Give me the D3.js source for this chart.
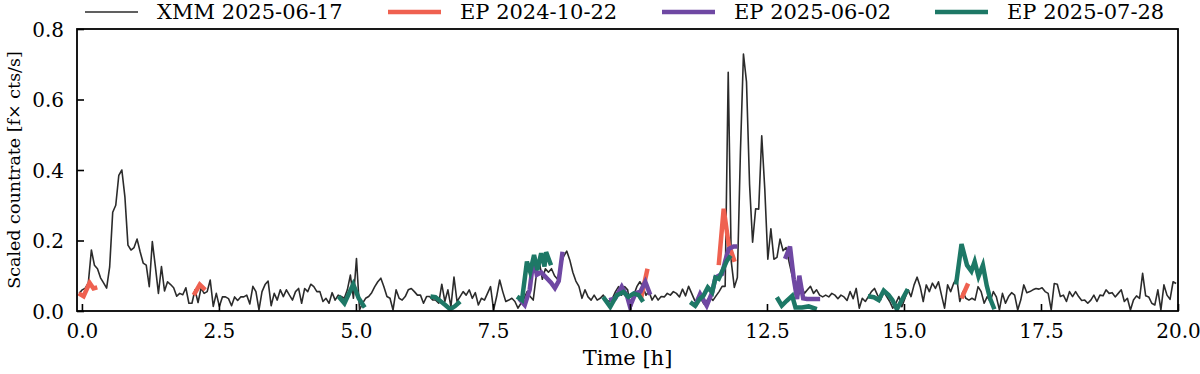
<!DOCTYPE html>
<html>
<head>
<meta charset="utf-8">
<script src="https://cdn.jsdelivr.net/npm/d3@7"></script>
<style>
  body { margin: 0; background: #fff; }
  text { font-family: "DejaVu Serif", "Liberation Serif", serif; }
</style>
</head>
<body>
<div id="chart"></div>
<script>
// Light curve comparison: XMM vs three EP observations

// XMM binned rate (200 s bins)
var xmmStart = -0.05;
var xmmBin = 0.0556;
var xmmRate = [
  0.05, 0.06, 0.065, 0.08, 0.173, 0.13, 0.12, 0.094, 0.08, 0.065,
  0.125, 0.28, 0.30, 0.385, 0.40, 0.324, 0.187, 0.173, 0.18, 0.204,
  0.168, 0.136, 0.13, 0.069, 0.197, 0.126, 0.05, 0.126, 0.057, 0.083,
  0.075, 0.066, 0.042, 0.05, 0.046, 0.066, 0.022, 0.022, 0.06, 0.024,
  0.065, 0.05, 0.055, 0.088, 0.013, 0.05, 0.013, 0.04, 0.04, 0.035,
  0.015, 0.04, 0.03, 0.04, 0.04, 0.045, 0.02, 0.07, 0.055, 0.003,
  0.055, 0.075, 0.085, 0.015, 0.05, 0.031, 0.06, 0.041, 0.06, 0.045,
  0.031, 0.055, 0.064, 0.022, 0.064, 0.055, 0.076, 0.069, 0.055, 0.055,
  0.027, 0.036, 0.022, 0.052, 0.031, 0.045, 0.041, 0.036, 0.06, 0.102,
  0.036, 0.149, 0.003, 0.022, 0.036, 0.041, 0.052, 0.069, 0.083, 0.093,
  0.069, 0.041, 0.036, 0.003, 0.06, 0.036, 0.031, 0.041, 0.06, 0.064,
  0.055, 0.045, 0.045, 0.022, 0.041, 0.041, 0.031, 0.031, 0.022, 0.076,
  0.027, 0.06, 0.012, 0.096, 0.027, 0.041, 0.055, 0.045, 0.06, 0.036,
  0.052, 0.017, 0.036, 0.031, 0.05, 0.069, 0.003, 0.041, 0.088, 0.055,
  0.027, 0.031, 0.036, 0.027, 0.008, 0.022, 0.036, 0.055, 0.041, 0.031,
  0.10, 0.14, 0.09, 0.12, 0.11, 0.12, 0.10, 0.09, 0.13, 0.155,
  0.17, 0.145, 0.11, 0.085, 0.07, 0.036, 0.06, 0.04, 0.031, 0.045,
  0.031, 0.036, 0.045, 0.031, 0.027, 0.036, 0.055, 0.069, 0.045, 0.069,
  0.06, 0.003, 0.045, 0.069, 0.083, 0.069, 0.045, 0.055, 0.031, 0.045,
  0.031, 0.041, 0.04, 0.05, 0.045, 0.055, 0.05, 0.04, 0.062, 0.043,
  0.07, 0.05, 0.03, 0.03, 0.035, 0.02, 0.03, 0.04, 0.03, 0.043,
  0.055, 0.07, 0.07, 0.677, 0.14, 0.067, 0.095, 0.45, 0.729, 0.65,
  0.36, 0.195, 0.29, 0.289, 0.497, 0.346, 0.147, 0.233, 0.147, 0.152,
  0.204, 0.171, 0.18, 0.138, 0.10, 0.071, 0.043, 0.07, 0.05, 0.06,
  0.07, 0.05, 0.06, 0.045, 0.04, 0.045, 0.04, 0.05, 0.045, 0.035,
  0.045, 0.04, 0.03, 0.055, 0.035, 0.064, 0.008, 0.036, 0.027, 0.041,
  0.055, 0.064, 0.045, 0.031, 0.055, 0.041, 0.027, 0.008, 0.022, 0.041,
  0.012, 0.036, 0.06, 0.041, 0.074, 0.096, 0.069, 0.027, 0.074, 0.055,
  0.079, 0.064, 0.083, 0.045, 0.008, 0.074, 0.055, 0.079, 0.093, 0.027,
  0.055, 0.036, 0.031, 0.036, 0.031, 0.069, 0.055, 0.022, 0.041, 0.027,
  0.055, 0.04, 0.003, 0.05, 0.022, 0.041, 0.052, 0.045, 0.003, 0.031,
  0.074, 0.052, 0.055, 0.06, 0.064, 0.062, 0.066, 0.055, 0.05, 0.003,
  0.078, 0.076, 0.041, 0.045, 0.027, 0.055, 0.041, 0.055, 0.041, 0.030,
  0.031, 0.022, 0.031, 0.045, 0.027, 0.045, 0.043, 0.060, 0.050, 0.052,
  0.04, 0.05, 0.060, 0.027, 0.036, 0.003, 0.031, 0.043, 0.036, 0.107,
  0.043, 0.040, 0.022, 0.017, 0.060, 0.003, 0.074, 0.045, 0.033, 0.083,
  0.078
];

// EP segments: [time h, scaled rate]
var epOct2024 = [
  [[-0.06, 0.05], [0.03, 0.042], [0.14, 0.08], [0.21, 0.064], [0.28, 0.067]],
  [[2.04, 0.045], [2.15, 0.075], [2.25, 0.06]],
  [[10.2, 0.035], [10.32, 0.12]],
  [[11.62, 0.13], [11.71, 0.29], [11.80, 0.19], [11.91, 0.14]],
  [[16.05, 0.036], [16.17, 0.078]]
];

var epJun2025 = [
  [[7.98, 0.035], [8.08, 0.017], [8.17, 0.06], [8.24, 0.148], [8.30, 0.103], [8.38, 0.11],
   [8.47, 0.095], [8.56, 0.08], [8.63, 0.065], [8.70, 0.085], [8.77, 0.168]],
  [[9.62, 0.031], [9.73, 0.036], [9.85, 0.069], [9.95, 0.041], [10.0, 0.013], [10.1, 0.05],
   [10.19, 0.055], [10.28, 0.083], [10.37, 0.046]],
  [[11.19, 0.015], [11.28, 0.048], [11.40, 0.015], [11.50, 0.053], [11.56, 0.095], [11.68, 0.105],
   [11.74, 0.143], [11.80, 0.176], [11.89, 0.183], [11.96, 0.183]],
  [[12.83, 0.148], [12.92, 0.183], [12.99, 0.09], [13.05, 0.034], [13.09, 0.1], [13.16, 0.036],
   [13.23, 0.034], [13.47, 0.034]]
];

var epJul2025 = [
  [[4.68, 0.042], [4.79, 0.022], [4.95, 0.076], [5.05, 0.036], [5.16, 0.01]],
  [[6.36, 0.041], [6.45, 0.039], [6.55, 0.027], [6.63, 0.017], [6.72, 0.005], [6.81, 0.014], [6.90, 0.027]],
  [[7.94, 0.041], [8.03, 0.031], [8.12, 0.14], [8.18, 0.111], [8.25, 0.159], [8.31, 0.116],
   [8.38, 0.164], [8.44, 0.126], [8.47, 0.167], [8.56, 0.13]],
  [[9.51, 0.04], [9.64, 0.012], [9.76, 0.045], [9.88, 0.054], [9.97, 0.04], [10.07, 0.05],
   [10.16, 0.045], [10.24, 0.026]],
  [[11.10, 0.025], [11.19, 0.015], [11.27, 0.034], [11.34, 0.043], [11.42, 0.067], [11.50, 0.053],
   [11.56, 0.095], [11.62, 0.091], [11.70, 0.119], [11.77, 0.143], [11.84, 0.157]],
  [[12.68, 0.039], [12.77, 0.015], [12.86, 0.029], [12.96, 0.043], [13.02, 0.01], [13.14, 0.01],
   [13.26, 0.013], [13.41, 0.005]],
  [[14.34, 0.042], [14.45, 0.039], [14.54, 0.031], [14.63, 0.058], [14.72, 0.045], [14.79, 0.031],
   [14.87, 0.005], [14.96, 0.031], [15.07, 0.062]],
  [[15.95, 0.075], [16.05, 0.19], [16.15, 0.13], [16.23, 0.113], [16.29, 0.14], [16.36, 0.098],
   [16.44, 0.13], [16.51, 0.072], [16.57, 0.036], [16.65, 0.005]]
];

var seriesNames = ["XMM 2025-06-17", "EP 2024-10-22", "EP 2025-06-02", "EP 2025-07-28"];
var seriesColors = ["#2b2b2b", "#ef6150", "#6f48a3", "#1d7866"];
var xTicks = [0, 2.5, 5, 7.5, 10, 12.5, 15, 17.5, 20];
var yTicks = [0, 0.2, 0.4, 0.6, 0.8];

var margin = {top: 29, right: 22, bottom: 63, left: 77};
var width = 1200 - margin.left - margin.right,
    height = 374 - margin.top - margin.bottom;

var svg = d3.select("#chart").append("svg")
    .attr("width", 1200)
    .attr("height", 374);

var g = svg.append("g")
    .attr("transform", "translate(" + margin.left + "," + margin.top + ")");

var x = d3.scaleLinear().domain([-0.09, 20]).range([0, width]);
var y = d3.scaleLinear().domain([0, 0.8]).range([height, 0]);

g.append("clipPath").attr("id", "clip")
  .append("rect").attr("width", width).attr("height", height);

var line = d3.line()
    .x(function(d) { return x(d[0]); })
    .y(function(d) { return y(d[1]); });

var xmmPts = xmmRate.map(function(v, i) { return [xmmStart + i * xmmBin, v]; });

var plot = g.append("g").attr("clip-path", "url(#clip)");

plot.append("path")
    .datum(xmmPts)
    .attr("d", line)
    .attr("fill", "none")
    .attr("stroke", seriesColors[0])
    .attr("stroke-width", 1.6)
    .attr("stroke-linejoin", "round");

[epOct2024, epJun2025, epJul2025].forEach(function(segs, k) {
    plot.selectAll("path.ep" + k)
        .data(segs)
        .enter().append("path")
        .attr("class", "ep" + k)
        .attr("d", line)
        .attr("fill", "none")
        .attr("stroke", seriesColors[k + 1])
        .attr("stroke-width", 4.5)
        .attr("stroke-linejoin", "miter")
        .attr("stroke-linecap", "butt");
});

// axes, ticks inward
var xAxis = d3.axisBottom(x).tickValues(xTicks).tickFormat(d3.format(".1f"))
    .tickSizeInner(-7).tickSizeOuter(0).tickPadding(13);
var yAxis = d3.axisLeft(y).tickValues(yTicks).tickFormat(d3.format(".1f"))
    .tickSizeInner(-7).tickSizeOuter(0).tickPadding(13);

var gx = g.append("g").attr("transform", "translate(0," + height + ")").call(xAxis);
var gy = g.append("g").call(yAxis);
[gx, gy].forEach(function(a) {
    a.attr("font-family", null).attr("font-size", null);
    a.select(".domain").remove();
    a.selectAll("line").attr("stroke", "#000").attr("stroke-width", 1.6);
    a.selectAll("text").attr("fill", "#000").style("font-size", "20px");
});
gy.selectAll("text").attr("dy", "0.35em");

g.append("rect")
    .attr("width", width)
    .attr("height", height)
    .attr("fill", "none")
    .attr("stroke", "#000")
    .attr("stroke-width", 1.8);

g.append("text")
    .attr("x", width / 2)
    .attr("y", height + 54)
    .attr("text-anchor", "middle")
    .style("font-size", "21px")
    .text("Time [h]");

g.append("text")
    .attr("transform", "rotate(-90)")
    .attr("x", -height / 2)
    .attr("y", -57)
    .attr("text-anchor", "middle")
    .style("font-size", "17.5px")
    .text("Scaled countrate [f\u00d7 cts/s]");

// legend
var legendX = [85, 388, 662, 935];
var legend = svg.selectAll("g.legend")
    .data(seriesNames)
    .enter().append("g")
    .attr("class", "legend")
    .attr("transform", function(d, i) { return "translate(" + legendX[i] + ",12)"; });

legend.append("line")
    .attr("x1", 0).attr("x2", 53)
    .attr("stroke", function(d, i) { return seriesColors[i]; })
    .attr("stroke-width", function(d, i) { return i === 0 ? 1.6 : 4.5; });

legend.append("text")
    .attr("x", 72)
    .attr("dy", "0.35em")
    .style("font-size", "21px")
    .text(function(d) { return d; });
</script>
</body>
</html>
